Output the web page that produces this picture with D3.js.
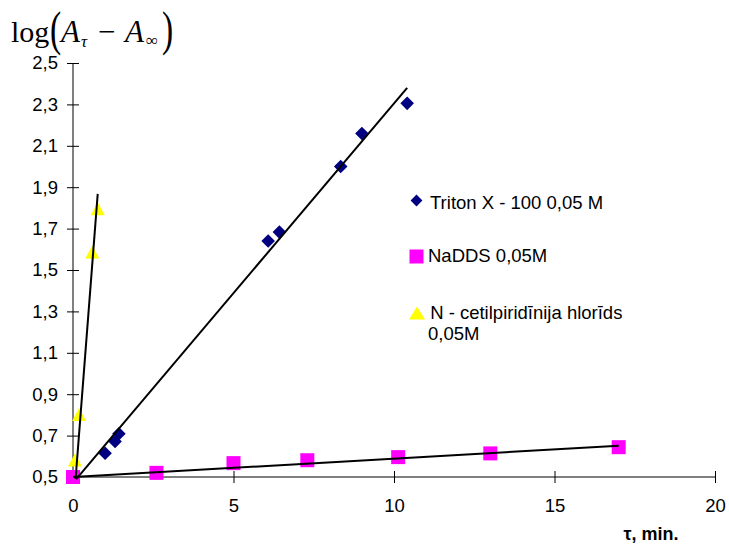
<!DOCTYPE html>
<html><head><meta charset="utf-8">
<script src="https://cdn.jsdelivr.net/npm/d3@7"></script>
<style>body{margin:0;background:#fff}svg{display:block}</style>
</head><body>
<script>
// ---- data ----
const tritonX = [1.0, 1.31, 1.43, 6.08, 6.43, 8.34, 9.0, 10.41];
const tritonY = [0.615, 0.672, 0.709, 1.64, 1.683, 2.0, 2.159, 2.305];
const naddsX = [0, 2.6, 5.0, 7.3, 10.13, 13.0, 17.0];
const naddsY = [0.5, 0.52, 0.567, 0.581, 0.596, 0.614, 0.644];
const cetilX = [0.06, 0.19, 0.6, 0.77];
const cetilY = [0.58, 0.8, 1.584, 1.794];
const tritonFitX = [0.1, 10.41], tritonFitY = [0.49, 2.38];
const cetilFitX = [0.08, 0.77], cetilFitY = [0.49, 1.868];
const naddsFitX = [0, 17], naddsFitY = [0.5, 0.651];
const xTicks = [0, 5, 10, 15, 20];
const yTicks = [0.5, 0.7, 0.9, 1.1, 1.3, 1.5, 1.7, 1.9, 2.1, 2.3, 2.5];
const seriesNames = ["Triton X - 100 0,05 M", "NaDDS 0,05M", " N - cetilpiridīnija hlorīds", "0,05M"];

const W = 729, H = 545;
const svg = d3.select("body").append("svg").attr("width", W).attr("height", H);
const x = d3.scaleLinear().domain([0, 20]).range([73, 715]);
const y = d3.scaleLinear().domain([0.5, 2.5]).range([477, 63]);
const fmt = d => String(d).replace(".", ",");
const font = "'Liberation Sans', Arial, sans-serif";

// axes
const gy = svg.append("g").attr("transform", `translate(${x(0)},0)`)
  .call(d3.axisLeft(y).tickValues(yTicks).tickSize(6).tickPadding(9).tickFormat(fmt));
gy.selectAll(".tick").append("line").attr("x2", 6).attr("stroke", "#000");
const gx = svg.append("g").attr("transform", `translate(0,${y(0.5)})`)
  .call(d3.axisBottom(x).tickValues(xTicks).tickSize(6).tickPadding(16).tickFormat(fmt));
gx.selectAll(".tick").append("line").attr("y2", -6).attr("stroke", "#000");
[gx, gy].forEach(g => {
  g.select(".domain").attr("stroke", "#000").attr("stroke-width", 1);
  g.selectAll("text").attr("font-family", font).attr("font-size", 18.5).attr("fill", "#000");
  g.selectAll(".tick line").attr("stroke", "#000");
});
gx.select(".domain").attr("d", `M${x(0)},0H${x(20)}`);
gy.select(".domain").attr("d", `M0,${y(0.5)}V${y(2.5)}`);

// markers
const diamond = d3.symbol().type(d3.symbolSquare).size(92);
svg.append("g").selectAll("path").data(tritonX.map((v, i) => [v, tritonY[i]])).join("path")
  .attr("d", diamond).attr("fill", "#000080")
  .attr("transform", d => `translate(${x(d[0])},${y(d[1])}) rotate(45)`);
svg.append("g").selectAll("rect").data(naddsX.map((v, i) => [v, naddsY[i]])).join("rect")
  .attr("x", d => x(d[0]) - 7).attr("y", d => y(d[1]) - 7)
  .attr("width", 14).attr("height", 14).attr("fill", "#FF00FF");
const tri = d => `M${x(d[0])},${y(d[1]) - 7}l7,13h-14z`;
svg.append("g").selectAll("path").data(cetilX.map((v, i) => [v, cetilY[i]])).join("path")
  .attr("d", tri).attr("fill", "#FFFF00");

// trend lines
const line = d3.line().x(d => x(d[0])).y(d => y(d[1]));
[[tritonFitX, tritonFitY], [cetilFitX, cetilFitY], [naddsFitX, naddsFitY]].forEach(([xs, ys]) => {
  svg.append("path").datum(xs.map((v, i) => [v, ys[i]])).attr("d", line)
    .attr("fill", "none").attr("stroke", "#000").attr("stroke-width", 2);
});

// legend
const lg = svg.append("g").attr("font-family", font).attr("font-size", 18.5).attr("fill", "#000");
lg.append("path").attr("d", d3.symbol().type(d3.symbolSquare).size(70))
  .attr("transform", "translate(416.5,200.5) rotate(45)").attr("fill", "#000080");
lg.append("text").attr("x", 430).attr("y", 209).text(seriesNames[0]);
lg.append("rect").attr("x", 409.5).attr("y", 249.5).attr("width", 14).attr("height", 14).attr("fill", "#FF00FF");
lg.append("text").attr("x", 428).attr("y", 262).text(seriesNames[1]);
lg.append("path").attr("d", "M417,306.5l8,13h-16z").attr("fill", "#FFFF00");
lg.append("text").attr("x", 425).attr("y", 319).attr("xml:space", "preserve").style("white-space", "pre").text(seriesNames[2]);
lg.append("text").attr("x", 428).attr("y", 339.5).text(seriesNames[3]);

// x axis title
svg.append("text").attr("x", 651).attr("y", 540).attr("text-anchor", "middle")
  .attr("font-family", font).attr("font-size", 18).attr("font-weight", "bold").text("τ, min.");

// y title
const serif = "'Liberation Serif', 'Times New Roman', serif";
const t = svg.append("g").attr("font-family", serif).attr("fill", "#000");
t.append("text").attr("x", 11).attr("y", 42).attr("font-size", 30).text("log");
t.append("text").attr("transform", "translate(50,45) scale(0.7,1)").attr("font-size", 48).text("(");
t.append("text").attr("x", 61).attr("y", 42).attr("font-size", 31).attr("font-style", "italic").text("A");
t.append("text").attr("x", 81).attr("y", 47).attr("font-size", 17).attr("font-style", "italic").text("τ");
t.append("text").attr("x", 98).attr("y", 42).attr("font-size", 31).text("−");
t.append("text").attr("x", 125).attr("y", 42).attr("font-size", 31).attr("font-style", "italic").text("A");
t.append("text").attr("x", 146).attr("y", 46).attr("font-size", 17).text("∞");
t.append("text").attr("transform", "translate(162,45) scale(0.7,1)").attr("font-size", 48).text(")");
</script>
</body></html>
